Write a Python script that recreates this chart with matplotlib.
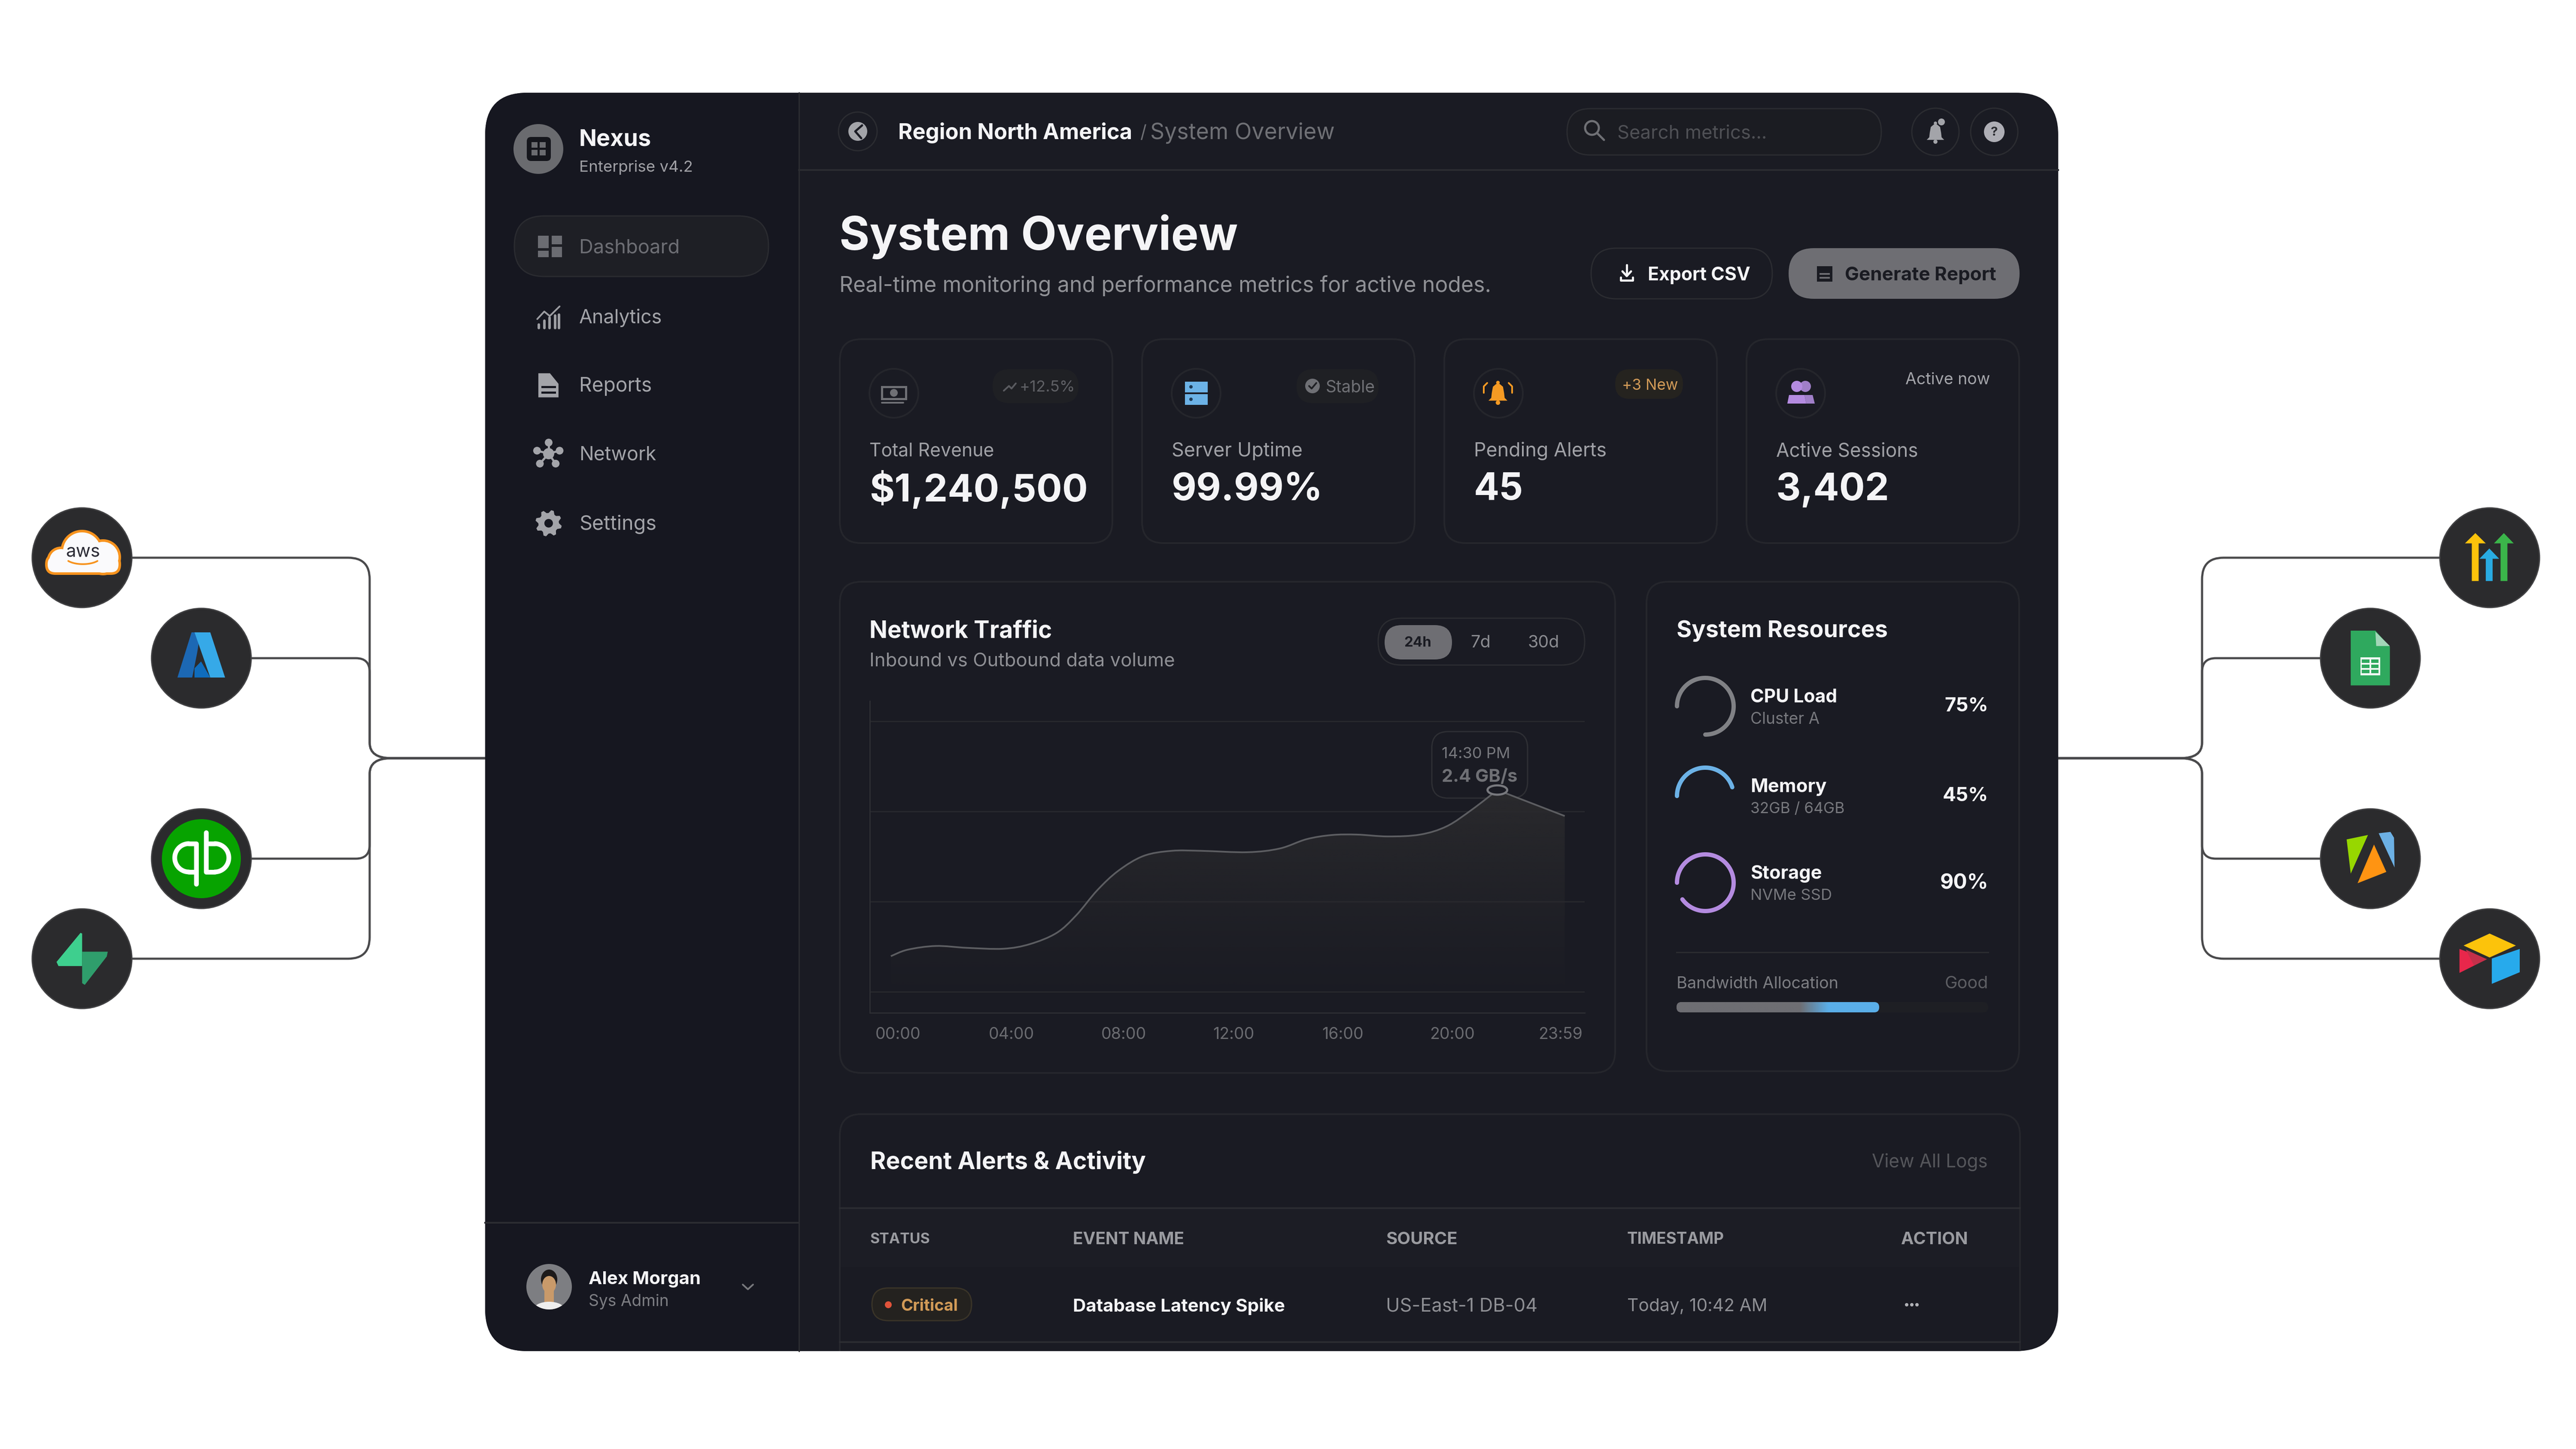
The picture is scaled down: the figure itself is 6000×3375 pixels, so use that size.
import numpy as np
import matplotlib
matplotlib.use("Agg")
import matplotlib.pyplot as plt
from matplotlib.colors import LinearSegmentedColormap, to_rgb
from matplotlib.font_manager import FontProperties
from matplotlib.patches import Circle, Ellipse, FancyBboxPatch, PathPatch, Polygon, Rectangle
from matplotlib.path import Path
from matplotlib.textpath import TextPath

FONT = "Inter"

# traffic curve
hours = [0, 0.6, 1.6, 2.7, 4.0, 4.95, 5.9, 6.6, 7.35, 8.1, 9.0, 10.0, 11.05, 12.7,
         13.85, 14.8, 15.7, 16.6, 17.7, 18.85, 19.8, 20.7, 21.6, 24]
traffic = [0.61, 0.68, 0.72, 0.70, 0.69, 0.74, 0.86, 1.05, 1.32, 1.53, 1.69, 1.745, 1.745, 1.73,
           1.77, 1.87, 1.915, 1.92, 1.90, 1.92, 2.01, 2.19, 2.40, 2.12]
tick_hours = [0.26, 4.3, 8.3, 12.2, 16.1, 20.0, 23.85]
tick_labels = ["00:00", "04:00", "08:00", "12:00", "16:00", "20:00", "23:59"]
grid_levels = [0.227, 1.196, 2.17, 3.14]
peak_hour = 21.6
peak_value = 2.4

nav_items = ["Dashboard", "Analytics", "Reports", "Network", "Settings"]

stat_labels = ["Total Revenue", "Server Uptime", "Pending Alerts", "Active Sessions"]
stat_values = ["$1,240,500", "99.99%", "45", "3,402"]

resource_names = ["CPU Load", "Memory", "Storage"]
resource_details = ["Cluster A", "32GB / 64GB", "NVMe SSD"]
resource_pct = [75, 45, 90]
bandwidth_pct = 65

table_headers = ["STATUS", "EVENT NAME", "SOURCE", "TIMESTAMP", "ACTION"]
table_row = ["Critical", "Database Latency Spike", "US-East-1 DB-04", "Today, 10:42 AM"]

# colours
PANEL = "#1a1b23"
SIDE = "#161720"
BORDER = "#25262c"
LINE = "#2b2c31"
WHITE = "#f4f4f6"
MUTED = "#909196"
DIM = "#6f7075"
FAINT = "#4f5055"
GREY_ICON = "#a3a4a9"
BLUE = "#6cb2e6"
PURPLE = "#b48be0"
ORANGE = "#f59a23"
AMBER = "#d19a57"
LINK = "#4a4a4c"
BADGE = "#2b2b2d"

fig = plt.figure(figsize=(20, 11.25), dpi=300, facecolor="white")
ax = fig.add_axes([0, 0, 1, 1])
ax.set_xlim(0, 6000)
ax.set_ylim(3375, 0)
ax.axis("off")
ax.autoscale(False)


def px(n):
    return n * 72 / 300


def put(x, y, s, w, color, weight="normal", ha="left"):
    # font size chosen so the string is w pixels wide
    fp = FontProperties(family=FONT, weight=weight)
    ref = TextPath((0, 0), s, size=10, prop=fp).get_extents().width
    return ax.text(x, y + 4, s, family=FONT, weight=weight, size=px(10 * w / ref), color=color,
                   ha=ha, va="center", zorder=5)


def box(x0, y0, x1, y1, r, fc, ec="none", lw=4, z=1, clip=None):
    p = FancyBboxPatch((x0, y0), x1 - x0, y1 - y0, boxstyle=f"round,pad=0,rounding_size={r}",
                       fc=fc, ec=ec, lw=px(lw), zorder=z)
    ax.add_patch(p)
    if clip is not None:
        p.set_clip_path(clip)
    return p


def disc(x, y, r, fc, ec="none", lw=4, z=1):
    c = Circle((x, y), r, fc=fc, ec=ec, lw=px(lw), zorder=z)
    ax.add_patch(c)
    return c


def poly(pts, color, z=1):
    p = Polygon(pts, closed=True, fc=color, ec="none", zorder=z)
    ax.add_patch(p)
    return p


def stroke(xs, ys, color, lw, z=2):
    ax.plot(xs, ys, color=color, lw=px(lw), solid_capstyle="round", solid_joinstyle="round", zorder=z)


def zl(pts):
    # left logo crop to pixels
    return [(x * 0.7653, 1150 + y * 0.7972) for x, y in pts]


def zr(pts):
    # right logo crop to pixels
    return [(5000 + x * 0.638, 1150 + y * 0.7972) for x, y in pts]


def zs(pts):
    # sidebar crop to pixels
    return [(1130 + x * 0.51, 210 + y * 0.7015) for x, y in pts]


def connector(x0, y0, xt, yj, xe, r, r2):
    d = 1 if xe > x0 else -1
    dy = 1 if yj > y0 else -1
    verts = [(x0, y0), (xt - d * r, y0), (xt, y0), (xt, y0 + dy * r), (xt, yj - dy * r2),
             (xt, yj), (xt + d * r2 * 1.4, yj), (xe, yj)]
    codes = [Path.MOVETO, Path.LINETO, Path.CURVE3, Path.CURVE3, Path.LINETO,
             Path.CURVE3, Path.CURVE3, Path.LINETO]
    ax.add_patch(PathPatch(Path(verts, codes), fc="none", ec=LINK, lw=px(5), zorder=0.5))


def bell(cx, cy, s, color):
    body = [(-.15, -.8), (.15, -.8), (.45, -.55), (.55, 0), (.6, .45), (.85, .7),
            (-.85, .7), (-.6, .45), (-.55, 0), (-.45, -.55)]
    poly([(cx + a * s, cy + b * s) for a, b in body], color, z=3)
    disc(cx, cy - .92 * s, .16 * s, color, z=3)
    disc(cx, cy + .88 * s, .2 * s, color, z=3)


def smooth_through(xs, ys):
    # bezier segments through the read points, peak and last segment stay sharp
    verts = [(xs[0], ys[0])]
    codes = [Path.MOVETO]
    n = len(xs) - 1
    for i in range(n - 1):
        a = max(i - 1, 0)
        b = min(i + 2, n - 1)
        verts += [(xs[i] + (xs[i + 1] - xs[a]) / 6, ys[i] + (ys[i + 1] - ys[a]) / 6),
                  (xs[i + 1] - (xs[b] - xs[i]) / 6, ys[i + 1] - (ys[b] - ys[i]) / 6),
                  (xs[i + 1], ys[i + 1])]
        codes += [Path.CURVE4] * 3
    verts.append((xs[n], ys[n]))
    codes.append(Path.LINETO)
    return verts, codes


# connectors, behind the panel and the logo discs
JUNCTION = 1766
for cx, cy, r in [(191, 1299, 50), (469, 1533, 32), (469, 2000, 32), (191, 2233, 50)]:
    connector(cx, cy, 861, JUNCTION, 1200, r, 36)
for cx, cy, r in [(5799, 1299, 50), (5521, 1533, 32), (5521, 2000, 32), (5799, 2233, 50)]:
    connector(cx, cy, 5129, JUNCTION, 4780, r, 36)

for cx, cy in [(191, 1299), (469, 1533), (469, 2000), (191, 2233),
               (5799, 1299), (5521, 1533), (5521, 2000), (5799, 2233)]:
    disc(cx, cy, 116, BADGE, ec="#414143", lw=3)

# aws cloud
bumps = [(191, 1284, 44), (142, 1306, 27), (240, 1298, 36)]
for cx, cy, r, in bumps:
    disc(cx, cy, r + 6, "#f7931e", z=1.1)
box(105, 1290, 282, 1339, 24, "#f7931e", z=1.1)
for cx, cy, r, in bumps:
    disc(cx, cy, r, "#fafafc", z=1.2)
box(111, 1296, 276, 1333, 18, "#fafafc", z=1.2)
put(193, 1282, "aws", 76, "#2b2b35", ha="center")
t = np.linspace(0.2, 0.8, 30) * np.pi
stroke(193 + 42 * np.cos(t), 1296 + 18 * np.sin(t), "#f7931e", 4, z=6)

# azure
poly(zl([(583, 405), (610, 405), (600, 465), (585, 537), (540, 537)]), "#1c68b4", z=1.2)
poly(zl([(592, 510), (612, 490), (640, 537), (592, 537)]), "#0f6cbd", z=1.2)
poly(zl([(592, 405), (640, 405), (685, 537), (640, 537)]), "#36a9e8", z=1.2)

# quickbooks
disc(469, 2000, 92, "#07a300", z=1.2)
t = np.linspace(0.5, 1.5, 40) * np.pi
stroke(440 + 33 * np.cos(t), 1998 + 33 * np.sin(t), "white", 11, z=3)
stroke(500 - 33 * np.cos(t), 1998 + 33 * np.sin(t), "white", 11, z=3)
stroke([440, 457, 457], [1965, 1965, 2059], "white", 11, z=3)
stroke([440, 457], [2031, 2031], "white", 11, z=3)
stroke([500, 480, 480], [2031, 2031, 1939], "white", 11, z=3)
stroke([480, 500], [1965, 1965], "white", 11, z=3)

# supabase
poly(zl([(245, 1283), (250, 1285), (250, 1380), (178, 1380), (172, 1368)]), "#3ecf8e", z=1.2)
poly(zl([(250, 1338), (328, 1338), (325, 1352), (258, 1435), (250, 1430)]), "#2f9e6c", z=1.2)

# arrows logo
for tip, left, right, s0, s1, col in [(1200, 1162, 1238, 1187, 1212, "#fcc30b"),
                                      (1251, 1215, 1287, 1238, 1263, "#29abe2"),
                                      (1304, 1268, 1340, 1292, 1317, "#3bb54a")]:
    top = 160 if col == "#29abe2" else 115
    poly(zr([(tip, top), (right, top + 30), (s1, top + 30), (s1, 255), (s0, 255), (s0, top + 30), (left, top + 30)]),
         col, z=1.2)

# sheets
poly(zr([(745, 400), (835, 400), (888, 447), (888, 560), (745, 560)]), "#2fa95e", z=1.2)
poly(zr([(835, 403), (888, 445), (838, 445)]), "#a3d6b8", z=1.3)
poly(zr([(780, 478), (853, 478), (853, 530), (780, 530)]), "#f2f7f3", z=1.3)
for i in range(2):
    for j in range(3):
        x0 = 786 + i * 33
        y0 = 484 + j * 15
        poly(zr([(x0, y0), (x0 + 28, y0), (x0 + 28, y0 + 10), (x0, y0 + 10)]), "#2fa95e", z=1.4)

# alteryx
poly(zr([(730, 1010), (808, 997), (745, 1110)]), "#97d700", z=1.2)
poly(zr([(847, 992), (890, 988), (903, 1005), (905, 1092)]), "#6cb0e4", z=1.2)
poly(zr([(830, 1025), (875, 1105), (770, 1138)]), "#ff9412", z=1.2)

# airtable
poly(zr([(1252, 1285), (1348, 1320), (1252, 1355), (1157, 1320)]), "#fcc30b", z=1.2)
poly(zr([(1142, 1330), (1242, 1360), (1142, 1400)]), "#e8274b", z=1.2)
poly(zr([(1165, 1332), (1242, 1360), (1195, 1378)]), "#c4304a", z=1.3)
poly(zr([(1260, 1358), (1362, 1330), (1362, 1398), (1260, 1432)]), "#27aaec", z=1.2)

# panel
panel = box(1130, 216, 4794, 3147, 98, PANEL, z=0.8)
side = Rectangle((1130, 216), 731, 2931, fc=SIDE, ec="none", zorder=0.85)
ax.add_patch(side)
side.set_clip_path(panel)
ax.plot([1861, 1861], [216, 3147], color=LINE, lw=px(3), zorder=0.9)
ax.plot([1861, 4794], [396, 396], color=LINE, lw=px(4), zorder=0.9)
ax.plot([1130, 1861], [2848, 2848], color=LINE, lw=px(4), zorder=0.9)

# brand
disc(1254, 347, 58, "#6a6b6f")
box(1227, 319, 1283, 375, 10, "#15161c", z=1.1)
for i in range(2):
    for j in range(2):
        ax.add_patch(Rectangle((1238 + i * 19, 331 + j * 18), 14, 13, fc="#6a6b6f", zorder=1.2))
put(1349, 322, "Nexus", 163, WHITE, "bold")
put(1349, 386, "Enterprise v4.2", 259, "#a0a0a5")

# nav
box(1198, 503, 1790, 644, 70, "#1e1f25", ec="#2a2b30", lw=3)
for (a, b, c, d) in [(242, 483, 290, 525), (303, 483, 350, 512), (242, 533, 290, 555), (303, 520, 350, 555)]:
    poly(zs([(a, b), (c, b), (c, d), (a, d)]), "#6b6c72", z=2)
for name, y, col in zip(nav_items, [573, 736, 896, 1056, 1218],
                        ["#6d6e74", GREY_ICON, GREY_ICON, GREY_ICON, GREY_ICON]):
    width = {"Dashboard": 227, "Analytics": 190, "Reports": 163, "Network": 175, "Settings": 175}[name]
    put(1349, y, name, width, col)

for x, top in zip([245, 270, 295, 320, 338], [778, 765, 755, 748, 745]):
    p = zs([(x, top), (x, 790)])
    stroke([p[0][0], p[1][0]], [p[0][1], p[1][1]], "#9c9da2", 6)
p = zs([(238, 760), (270, 735), (295, 750), (340, 718)])
stroke([q[0] for q in p], [q[1] for q in p], "#9c9da2", 4)

poly(zs([(243, 940), (296, 940), (335, 975), (335, 1020), (243, 1020)]), GREY_ICON, z=2)
for yy in [985, 1003]:
    p = zs([(260, yy), (318, yy)])
    ax.plot([p[0][0], p[1][0]], [p[0][1], p[1][1]], color=SIDE, lw=px(5), zorder=3)

hub = zs([(290, 1207)])[0]
nodes = zs([(290, 1170), (237, 1197), (340, 1197), (250, 1240), (322, 1240)])
for n in nodes:
    stroke([hub[0], n[0]], [hub[1], n[1]], GREY_ICON, 5)
    disc(n[0], n[1], 9, GREY_ICON, z=2)
disc(hub[0], hub[1], 13, GREY_ICON, z=2)

gc = zs([(290, 1438)])[0]
ang = np.linspace(0, 2 * np.pi, 33)[:-1] + np.pi / 16
rad = np.tile([31, 31, 24, 24], 8)
poly(list(zip(gc[0] + rad * np.cos(ang), gc[1] + rad * np.sin(ang))), GREY_ICON, z=2)
disc(gc[0], gc[1], 10, SIDE, z=3)

# user
avatar = disc(1279, 2997, 53, "#7d7e82")
for patch in [Ellipse((1279, 2980), 38, 46, fc="#1d1a1a", zorder=1.1),
              Rectangle((1268, 2995), 22, 45, fc="#c99a6a", zorder=1.2),
              Ellipse((1279, 2992), 32, 40, fc="#c99a6a", zorder=1.3),
              Ellipse((1279, 3050), 72, 36, fc="#eeeeee", zorder=1.4)]:
    ax.add_patch(patch)
    patch.set_clip_path(avatar)
put(1371, 2976, "Alex Morgan", 258, WHITE, "bold")
put(1371, 3028, "Sys Admin", 182, "#7d7e83")
stroke([1730, 1742, 1754], [2992, 3003, 2992], "#77787c", 4)

# top bar
disc(1998, 306, 45, PANEL, ec=LINE, lw=3)
disc(1998, 306, 22, GREY_ICON, z=2)
stroke([2008, 1992, 2006], [292, 306, 322], PANEL, 5, z=3)
put(2092, 306, "Region North America", 540, WHITE, "bold")
put(2655, 306, "/", 13, DIM)
put(2679, 306, "System Overview", 425, DIM)

box(3650, 253, 4382, 361, 54, "#1b1c22", ec=LINE, lw=3)
ax.add_patch(Circle((3708, 298), 16, fc="none", ec=DIM, lw=px(5), zorder=3))
stroke([3720, 3736], [310, 326], DIM, 5, z=3)
put(3767, 307, "Search metrics...", 343, FAINT)

disc(4508, 307, 55, PANEL, ec=LINE, lw=3)
bell(4508, 309, 24, GREY_ICON)
disc(4522, 284, 8, GREY_ICON, z=3)
disc(4645, 307, 55, PANEL, ec=LINE, lw=3)
disc(4645, 307, 24, "#aeaeb5", z=2)
put(4645, 304, "?", 14, "#2a2b30", "bold", ha="center")

# heading
put(1955, 547, "System Overview", 922, WHITE, "bold")
put(1955, 662, "Real-time monitoring and performance metrics for active nodes.", 1510, MUTED)

box(3706, 578, 4128, 696, 59, PANEL, ec=LINE, lw=3)
stroke([3789, 3789], [617, 642], WHITE, 5, z=3)
stroke([3779, 3789, 3799], [632, 643, 632], WHITE, 5, z=3)
stroke([3775, 3775, 3803, 3803], [646, 653, 653, 646], WHITE, 5, z=3)
put(3838, 637, "Export CSV", 235, WHITE, "bold")

box(4166, 578, 4704, 696, 59, "#6e6e73")
ax.add_patch(Rectangle((4232, 620), 36, 36, fc="#1a1b22", zorder=3))
ax.plot([4240, 4260], [638, 638], color="#6e6e73", lw=px(4), zorder=4)
ax.plot([4240, 4260], [647, 647], color="#6e6e73", lw=px(4), zorder=4)
put(4297, 637, "Generate Report", 350, "#1a1b22", "bold")

# stat cards
card_x = [1956, 2660, 3364, 4068]
label_w = [287, 300, 303, 328]
value_w = [501, 340, 107, 255]
for x, lab, val, lw_, vw in zip(card_x, stat_labels, stat_values, label_w, value_w):
    box(x, 790, x + 635, 1265, 50, PANEL, ec=BORDER, lw=4)
    disc(x + 126, 916, 57, PANEL, ec=BORDER, lw=4)
    put(x + 69, 1047, lab, lw_, "#a0a1a6")
    put(x + 69, 1137, val, vw, WHITE, "bold")

# revenue icon
ax.add_patch(Rectangle((2054, 901), 56, 28, fc="none", ec=DIM, lw=px(5), zorder=3))
disc(2082, 915, 9, DIM, z=3)
stroke([2054, 2104], [938, 938], DIM, 4, z=3)
box(2312, 860, 2512, 939, 39, "#1f2024")
stroke([2338, 2350, 2356, 2366], [910, 899, 905, 893], "#5a5b60", 4, z=3)
put(2375, 899, "+12.5%", 122, "#5f6065")

# server icon
ax.add_patch(Rectangle((2760, 889), 53, 25, fc=BLUE, zorder=3))
ax.add_patch(Rectangle((2760, 918), 53, 25, fc=BLUE, zorder=3))
disc(2774, 901, 4, "#1e3a55", z=4)
disc(2774, 930, 4, "#1e3a55", z=4)
box(3020, 860, 3211, 939, 39, "#1f2024")
disc(3057, 899, 17, DIM, z=3)
stroke([3049, 3055, 3066], [899, 905, 892], "#1f2024", 4, z=4)
put(3088, 899, "Stable", 111, DIM)

# alert icon
bell(3489, 915, 26, ORANGE)
for sgn in [-1, 1]:
    stroke([3489 + sgn * 25, 3489 + sgn * 33, 3489 + sgn * 33], [892, 900, 915], ORANGE, 4, z=3)
box(3762, 860, 3920, 929, 34, "#25231f")
put(3778, 894, "+3 New", 126, AMBER)

# people icon
disc(4185, 900, 13, PURPLE, z=3)
disc(4205, 900, 13, "#a07fc8", z=2.9)
poly([(4163, 940), (4167, 920), (4203, 920), (4207, 940)], PURPLE, z=3)
poly([(4207, 940), (4203, 920), (4222, 920), (4227, 940)], "#a07fc8", z=2.9)
put(4438, 881, "Active now", 195, "#a4a5aa")

# traffic card
box(1956, 1355, 3762, 2499, 50, PANEL, ec=BORDER, lw=4)
put(2025, 1466, "Network Traffic", 420, WHITE, "bold")
put(2025, 1536, "Inbound vs Outbound data volume", 706, "#8e8f94")
box(3210, 1440, 3691, 1549, 54, PANEL, ec=LINE, lw=3)
box(3225, 1456, 3382, 1536, 40, "#6e6e73", z=1.1)
put(3302, 1494, "24h", 60, "#1a1b22", "bold", ha="center")
put(3449, 1494, "7d", 42, "#8a8b90", ha="center")
put(3595, 1494, "30d", 68, "#8a8b90", ha="center")

box(3335, 1704, 3558, 1859, 38, PANEL, ec="#2e2f34", lw=3)
put(3358, 1753, "14:30 PM", 155, "#77787d")
put(3358, 1806, "2.4 GB/s", 173, "#6f7075", "bold")

# chart axes in the card, 65.4 px per hour and 216.2 px per GB/s
CL, CR, CT, CB = 2026, 3691, 1633, 2359
chart = fig.add_axes([CL / 6000, 1 - CB / 3375, (CR - CL) / 6000, (CB - CT) / 3375], zorder=2)
chart.patch.set_alpha(0)
xlim = ((CL - 2075) / 65.4, (CR - 2075) / 65.4)
ylim = (0, (CB - CT) / 216.2)
curve_v, curve_c = smooth_through(hours, traffic)
outline = Path(curve_v + [(hours[-1], 0), (hours[0], 0), curve_v[0]],
               curve_c + [Path.LINETO, Path.LINETO, Path.LINETO])
shade = np.zeros((256, 2, 4))
shade[..., :3] = to_rgb("#2a2a2d")
shade[..., 3] = np.linspace(0, 1, 256)[:, None][::-1] ** 1.3
im = chart.imshow(shade, extent=(hours[0], hours[-1], 0, peak_value), origin="upper", aspect="auto", zorder=1)
im.set_clip_path(outline, transform=chart.transData)
chart.add_patch(PathPatch(Path(curve_v, curve_c), fc="none", ec="#5c5d61", lw=px(4), zorder=3))
chart.add_patch(Ellipse((peak_hour, peak_value), 0.70, 0.10, fc=PANEL, ec="#77787d", lw=px(5), zorder=4))
chart.set_xlim(*xlim)
chart.set_ylim(*ylim)
chart.set_yticks([])
chart.set_xticks(tick_hours, tick_labels, fontsize=9, color="#6a6b70", family=FONT)
chart.tick_params(axis="x", length=0, pad=8)
for lev in grid_levels:
    chart.axhline(lev, color="#27282d", lw=px(3), zorder=0.5)
for s in ["top", "right"]:
    chart.spines[s].set_visible(False)
for s in ["left", "bottom"]:
    chart.spines[s].set_color("#2c2d32")
    chart.spines[s].set_linewidth(px(3))

# resources card
box(3835, 1355, 4703, 2495, 50, PANEL, ec=BORDER, lw=4)
put(3905, 1466, "System Resources", 488, WHITE, "bold")
gauge_y = [1645, 1854, 2056]
gauge_col = ["#808185", BLUE, PURPLE]
name_w = [198, 174, 163]
detail_w = [158, 215, 185]
pct_w = [96, 100, 106]
for name, detail, pct, gy, col, nw, dw, pw in zip(resource_names, resource_details, resource_pct,
                                                  gauge_y, gauge_col, name_w, detail_w, pct_w):
    a = np.radians(np.linspace(180, 180 + 3.6 * pct, 120))
    stroke(3972 + 66 * np.cos(a), gy + 66 * np.sin(a), col, 10, z=3)
    put(4077, gy - 25, name, nw, WHITE, "bold")
    put(4077, gy + 27, detail, dw, "#77787d")
    put(4631, gy - 4, f"{pct}%", pw, WHITE, "bold", ha="right")
ax.plot([3905, 4631], [2218, 2218], color=LINE, lw=px(3), zorder=2)
put(3905, 2288, "Bandwidth Allocation", 372, "#7c7d82")
put(4631, 2288, "Good", 96, "#5d5e63", ha="right")
box(3905, 2334, 4631, 2358, 12, "#1e1f24", z=2)
bar_end = 3905 + (4631 - 3905) * bandwidth_pct / 100
bar = box(3905, 2334, bar_end, 2358, 12, "#6e6e73", z=2.1)
ramp = LinearSegmentedColormap.from_list("bw", [(0, "#6e6e73"), (0.61, "#6e6e73"), (0.75, "#5aaee8"), (1, "#5aaee8")])
bim = ax.imshow(np.linspace(0, 1, 256)[None, :], extent=(3905, bar_end, 2358, 2334), cmap=ramp, aspect="auto", zorder=2.2)
bim.set_clip_path(bar)

# alerts table, runs off the bottom of the panel
box(1956, 2595, 4705, 3400, 50, PANEL, ec=BORDER, lw=4, clip=panel)
put(2027, 2703, "Recent Alerts & Activity", 637, WHITE, "bold")
put(4630, 2703, "View All Logs", 267, "#55565b", ha="right")
head = Rectangle((1958, 2814), 2745, 138, fc="#1c1d25", ec="none", zorder=1.1)
ax.add_patch(head)
ax.plot([1956, 4705], [2814, 2814], color=LINE, lw=px(4), zorder=1.2)
ax.plot([1956, 4705], [3126, 3126], color=LINE, lw=px(4), zorder=1.2)
for head_txt, x, w in zip(table_headers, [2027, 2499, 3228, 3790, 4427], [137, 255, 163, 224, 153]):
    put(x, 2883, head_txt, w, "#9a9ba0", "bold")
box(2031, 3000, 2263, 3076, 38, "#24221f", ec="#3a3428", lw=3)
disc(2069, 3039, 8, "#e0533a", z=2)
put(2098, 3039, table_row[0], 129, AMBER, "bold")
put(2499, 3039, table_row[1], 491, WHITE, "bold")
put(3228, 3039, table_row[2], 347, "#8e8f94")
put(3790, 3039, table_row[3], 321, "#8e8f94")
for dx in [-12, 0, 12]:
    disc(4453 + dx, 3039, 4, "#b0b1b6", z=2)

fig.savefig("out.png", dpi=300, facecolor="white")
